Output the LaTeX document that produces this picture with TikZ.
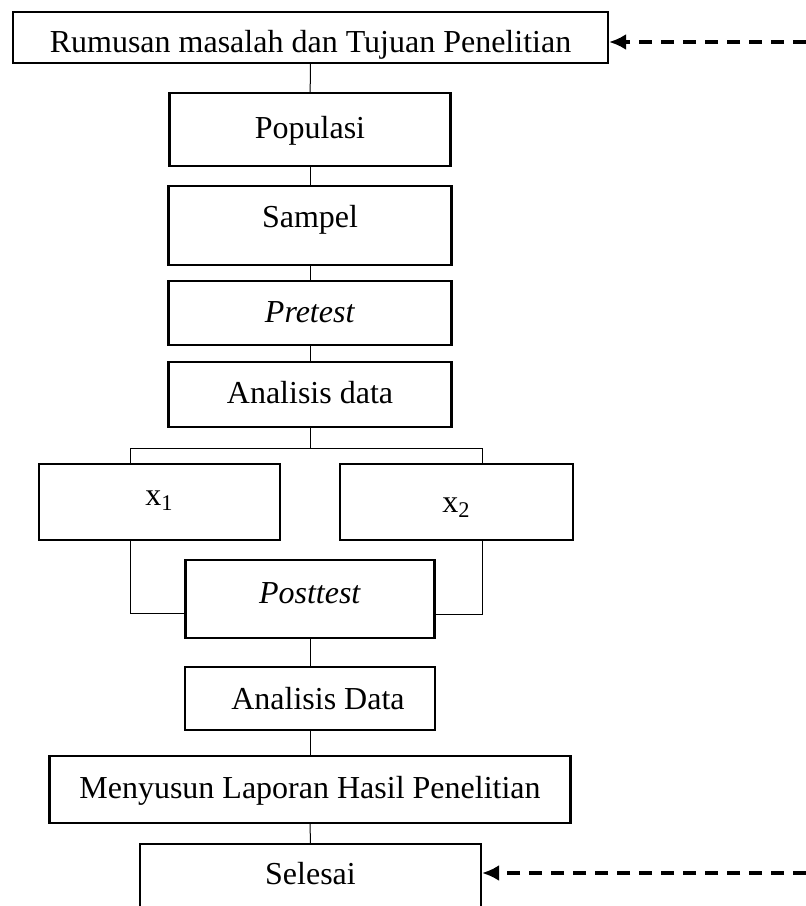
\documentclass[tikz,border=0pt]{standalone}
\usepackage{fontspec}
\setmainfont{Liberation Serif}
\usetikzlibrary{calc,arrows.meta}

\begin{document}
\begin{tikzpicture}
		[x=0.5pt,y=-0.5pt,font=\fontsize{16}{19}\selectfont]
			\tikzstyle{every node}=[rectangle, draw, line width=1.1pt,
		inner sep=0pt, text height=12pt, text depth=3pt]
			\tikzstyle{link}=[line width=0.5pt]
			\tikzstyle{back}=[line width=1.6pt, dash pattern=on 6.5pt off 4.5pt,
		-{Latex[length=8.5pt,width=8pt]}]
		\useasboundingbox (0,0) rectangle (806,906);
		\clip (0,0) rectangle (806,906);
		%-----boxes
		 \node[minimum width=297.5pt, minimum height=25.5pt, text height=18pt]  (RM) at (310.5,37.5) {Rumusan masalah dan Tujuan Penelitian};
		 \node[minimum width=140.5pt, minimum height=36.5pt]  (PO) at (310,129.5) {Populasi};
		 \node[minimum width=141.5pt, minimum height=39.5pt, text depth=10pt]  (SA) at (310,225.5) {Sampel};
		 \node[minimum width=141.5pt, minimum height=32pt]  (PR) at (310,313) {\textit{Pretest}};
		 \node[minimum width=141.5pt, minimum height=32.5pt]  (AN) at (310,394.5) {Analisis data};
		 \node[minimum width=120.5pt, minimum height=38pt, text depth=9pt]  (XA) at (159.5,502) {x\textsubscript{1}};
		 \node[minimum width=116.5pt, minimum height=38pt, text height=14pt, text depth=4pt]  (XB) at (456.5,502) {x\textsubscript{2}};
		 \node[minimum width=124.5pt, minimum height=39pt, text depth=8pt]  (PT) at (310,599) {\textit{Posttest}};
		 \node[minimum width=125pt, minimum height=31.5pt, text height=14pt]  (AD) at (310,698.5) {\ \ Analisis Data};
		 \node[minimum width=260.5pt, minimum height=33.5pt]  (ML) at (310,789.5) {Menyusun Laporan Hasil Penelitian};
		 \node[minimum width=170.5pt, minimum height=34pt, text depth=6pt]  (SL) at (310.5,878) {Selesai};
		 
		%-----points
		 \coordinate (BL) at (130,448);
		 \coordinate (BM) at (310,448);
		 \coordinate (BR) at (482,448);
		 \coordinate (JL) at (130,613);
		 \coordinate (JR) at (482,614);
		 \coordinate (IA) at (806,42);
		 \coordinate (IB) at (806,873);
		 
		 \foreach \from/\to in {RM/PO, PO/SA, SA/PR, PR/AN, PT/AD, AD/ML, ML/SL}
		 \draw[link] (\from) -- (\to);
		 
		  \draw[link] (AN) -- (BM);
		  \draw[link] (XA.north -| BL) -- (BL) -- (BR) -- (XB.north -| BR);
		  \draw[link] (XA.south -| JL) -- (JL) -- (JL -| PT.west);
		  \draw[link] (XB.south -| JR) -- (JR) -- (JR -| PT.east);
		 
		  \draw[back] (IA) -- (RM.east |- IA);
		  \draw[back] (IB) -- (SL.east |- IB);
		 
		\end{tikzpicture}
\end{document}
